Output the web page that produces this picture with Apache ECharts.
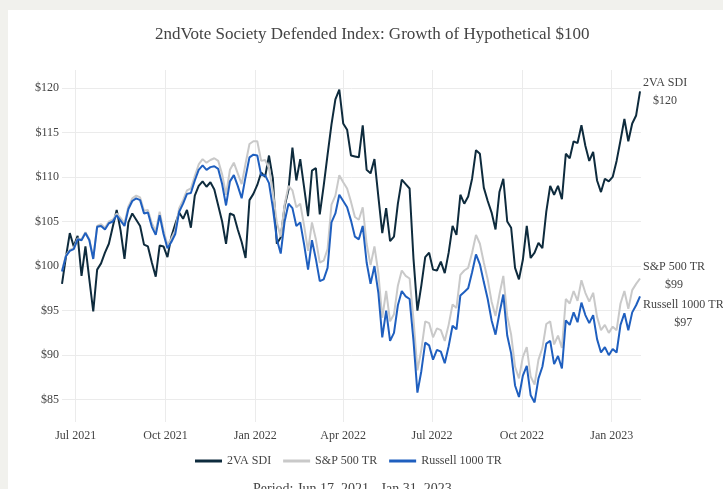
<!DOCTYPE html>
<html><head><meta charset="utf-8">
<script src="https://cdn.jsdelivr.net/npm/echarts@6/dist/echarts.min.js"></script>
<style>
html,body{margin:0;padding:0;background:#f1f1ed;width:723px;height:489px;overflow:hidden}
#c{position:absolute;left:8px;top:10px;width:715px;height:479px;background:#fff}
</style></head><body><div id="c"></div>
<script>
// ---- data ----
const startDate = [2021, 5, 17];   // Jun 17, 2021
const stepDays = 4;                // one reading every 4 calendar days
const endDate = [2023, 0, 31];     // Jan 31, 2023

const sdi = [
 98.0,101.0,103.7,102.2,103.4, 98.9,102.2, 98.5, 94.9, 99.6,
 100.3,101.5,102.5,104.4,106.3,104.0,100.8,104.9,105.9,105.2,
 104.5,102.4,102.2,100.4, 98.8,102.3,102.2,101.0,103.3,104.7,
 106.0,105.3,106.3,104.3,107.9,109.0,109.5,108.9,109.4,108.6,
 106.8,105.0,102.5,105.9,105.7,104.1,102.7,100.9,107.4,108.1,
 109.1,110.5,110.0,112.4,109.8,102.5,103.2,106.7,108.6,113.3,
 109.6,112.0,108.8,105.6,110.7,111.0,105.8,109.0,112.5,115.9,
 118.7,119.8,116.0,115.3,112.4,112.3,112.2,115.8,110.8,110.4,
 112.0,107.8,103.7,106.5,102.8,103.3,107.0,109.7,109.2,108.7,
 100.8, 95.0, 97.8,101.0,101.5, 99.6, 99.5,100.5, 99.2,101.5,
 104.5,103.5,108.0,107.0,107.8,109.8,113.0,112.6,108.8,107.3,
 106.0,104.1,108.3,109.8,105.0,104.3, 99.8, 98.5,100.7,104.5,
 100.9,101.5,102.6,102.0,106.1,109.0,108.0,109.0,107.5,112.6,
 112.1,114.0,113.8,115.8,113.5,111.8,112.8,109.6,108.3,109.8,
 109.5,110.0,111.8,114.1,116.5,114.0,116.0,116.9,119.6
];
const sp500 = [
 99.5,101.2,101.8,102.0,103.1,103.0,103.8,103.0,100.9,104.5,
 104.7,104.3,105.0,105.2,105.9,105.4,104.8,106.7,107.6,107.9,
 107.7,106.2,106.3,104.8,103.9,106.1,104.0,102.4,103.1,104.0,
 106.5,107.4,108.5,108.7,110.1,111.4,112.0,111.6,111.9,112.1,
 111.8,110.3,108.0,110.8,111.6,110.4,109.2,111.5,113.7,114.0,
 114.0,111.8,111.9,111.0,108.3,104.9,103.3,106.9,109.0,108.5,
 106.6,107.0,104.5,101.7,104.9,103.0,100.4,100.6,101.9,106.9,
 107.9,110.2,109.4,108.7,107.2,105.5,105.2,106.6,102.5,100.1,
 102.2, 99.2, 94.2, 97.2, 93.8, 94.6, 97.8, 99.5, 98.9, 98.6,
 94.0, 88.3, 90.6, 93.8, 93.6, 92.0, 93.0, 92.8, 91.6, 93.4,
 95.7, 95.3, 99.0, 99.5, 99.8,101.5,103.5,102.5,100.4, 98.5,
 96.0, 94.4, 96.8, 98.9, 94.4, 92.3, 88.7, 87.4, 89.8, 90.9,
 87.6, 86.7, 89.5, 90.8, 93.5, 93.8, 91.2, 92.2, 90.8, 96.3,
 95.8, 97.2, 96.1, 98.4, 97.0, 96.0, 97.0, 94.3, 92.8, 93.4,
 92.5, 93.2, 92.8, 95.8, 97.2, 95.2, 97.3, 98.0, 98.6
];
const russell = [
 99.4,101.1,101.7,101.9,103.0,102.9,103.7,102.9,100.8,104.4,
 104.5,104.1,104.8,105.0,105.7,105.1,104.5,106.4,107.3,107.6,
 107.4,105.9,106.0,104.4,103.5,105.7,103.6,102.0,102.7,103.6,
 106.1,107.0,108.1,108.2,109.6,110.8,111.3,110.8,111.1,111.2,
 110.9,109.2,106.8,109.5,110.2,109.0,107.6,110.0,112.2,112.5,
 112.4,110.2,110.2,109.3,106.5,103.0,101.4,105.0,107.0,106.5,
 104.5,104.9,102.4, 99.6,102.9,100.8, 98.3, 98.5, 99.8,104.9,
 105.9,108.0,107.3,106.6,105.1,103.3,103.0,104.5,100.4, 98.0,
 100.0, 97.0, 92.0, 95.0, 91.6, 92.5, 95.6, 97.2, 96.6, 96.3,
 91.6, 85.8, 88.2, 91.4, 91.1, 89.5, 90.6, 90.4, 89.1, 91.0,
 93.3, 92.9, 96.7, 97.1, 97.5, 99.3,101.3,100.2, 98.2, 96.3,
 93.9, 92.3, 94.7, 96.8, 92.2, 90.2, 86.6, 85.3, 87.7, 88.8,
 85.5, 84.7, 87.4, 88.7, 91.3, 91.6, 89.0, 89.9, 88.5, 93.9,
 93.4, 94.8, 93.7, 95.9, 94.5, 93.6, 94.5, 91.8, 90.3, 90.9,
 90.0, 90.7, 90.3, 93.4, 94.7, 92.8, 94.8, 95.6, 96.6
];
const seriesNames = ['2VA SDI', 'S&P 500 TR', 'Russell 1000 TR'];
const tickDates = [[2021,6,1],[2021,9,1],[2022,0,1],[2022,3,1],[2022,6,1],[2022,9,1],[2023,0,1]];
const yTicks = [85, 90, 95, 100, 105, 110, 115, 120];
const monthNames = ['Jan','Feb','Mar','Apr','May','Jun','Jul','Aug','Sep','Oct','Nov','Dec'];
const titleText = '2ndVote Society Defended Index: Growth of Hypothetical $100';
const periodText = 'Period: Jun 17, 2021 - Jan 31, 2023';

// ---- build ----
const dates = sdi.map((_, i) => new Date(startDate[0], startDate[1], startDate[2] + i * stepDays).getTime());
const toTs = a => new Date(a[0], a[1], a[2]).getTime();
const FONT = "'Liberation Serif','Times New Roman',serif";
const colors = ['#0e2b3d', '#c9c9c9', '#1f5fbf'];
const values = [sdi, sp500, russell];
const labelOffsets = [[0, 0], [0, -3], [0, 17]];

const chart = echarts.init(document.getElementById('c'), null, {renderer: 'canvas'});
chart.setOption({
  animation: false,
  backgroundColor: '#fff',
  color: colors,
  title: [
    {text: titleText, left: 147, top: 16, padding: 0,
     textStyle: {fontFamily: FONT, fontSize: 17, fontWeight: 'normal', color: '#444'}},
    {text: periodText, left: 245, top: 472, padding: 0,
     textStyle: {fontFamily: FONT, fontSize: 14, fontWeight: 'normal', color: '#444'}}
  ],
  legend: {
    data: seriesNames, left: 182, top: 440, icon: 'rect', itemWidth: 27, itemHeight: 3, itemGap: 12,
    textStyle: {fontFamily: FONT, fontSize: 12, color: '#444'}
  },
  grid: {left: 54, right: 82, top: 60, bottom: 67, containLabel: false},
  xAxis: {
    type: 'value',
    min: toTs(startDate), max: toTs(endDate),
    axisLine: {show: false}, axisTick: {show: false, customValues: tickDates.map(toTs)},
    axisLabel: {
      customValues: tickDates.map(toTs), margin: 8,
      fontFamily: FONT, fontSize: 12, color: '#444',
      formatter: v => { const d = new Date(v); return monthNames[d.getMonth()] + ' ' + d.getFullYear(); }
    },
    splitLine: {show: true, lineStyle: {color: '#ebebeb', width: 1}}
  },
  yAxis: {
    type: 'value', min: 82.5, max: 122,
    axisLine: {show: false}, axisTick: {show: false, customValues: yTicks},
    axisLabel: {customValues: yTicks, margin: 3, fontFamily: FONT, fontSize: 12, color: '#444',
                formatter: v => '$' + v},
    splitLine: {show: true, lineStyle: {color: '#ebebeb', width: 1}}
  },
  series: seriesNames.map((name, s) => ({
    name, type: 'line', symbol: 'none', showSymbol: false,
    data: dates.map((d, i) => [d, values[s][i]]),
    lineStyle: {width: 2, color: colors[s]},
    itemStyle: {color: colors[s]},
    z: 2 + s,
    endLabel: {
      show: true, distance: 3, offset: labelOffsets[s], align: 'left',
      formatter: p => '{n|' + name + '}\n{n|$' + Math.round(p.value[1]) + '}',
      rich: {n: {align: 'center', fontFamily: FONT, fontSize: 12, color: '#444', lineHeight: 18}}
    }
  }))
});
</script></body></html>
